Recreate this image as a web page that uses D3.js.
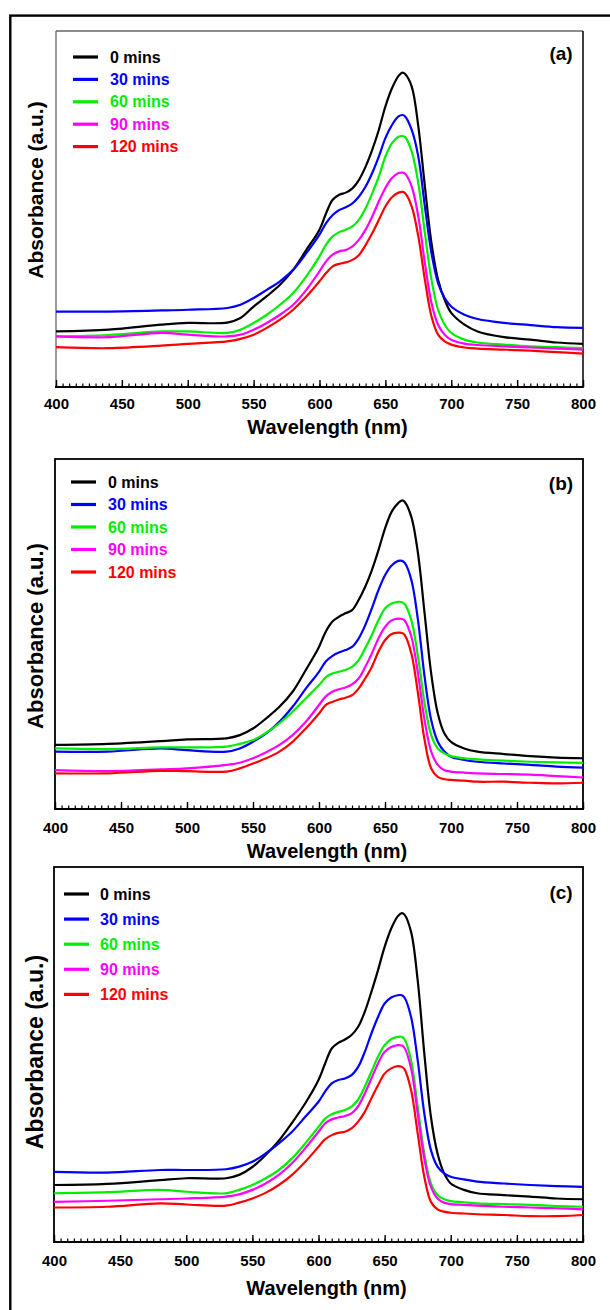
<!DOCTYPE html>
<html>
<head>
<meta charset="utf-8">
<script src="https://cdn.jsdelivr.net/npm/d3@7"></script>
<style>
  html, body { margin: 0; padding: 0; background: #fff; }
  svg { display: block; }
  text { font-family: "Liberation Sans", Arial, sans-serif; font-weight: bold; }
</style>
</head>
<body>
<svg id="chart" width="610" height="1310"></svg>
<script>
// Wavelength grid (nm) shared by every spectrum
const wavelengths = [400,440,480,500,530,540,550,560,570,580,590,600,605,610,615,620,625,630,635,640,645,650,655,660,663,665,670,675,680,685,690,695,700,710,720,740,760,780,800];

// Irradiation times shown in the legends
const seriesNames = ["0 mins", "30 mins", "60 mins", "90 mins", "120 mins"];

// Tick labels on the wavelength axis
const xTickValues = [400, 450, 500, 550, 600, 650, 700, 750, 800];

// Panel tags
const panelTags = ["(a)", "(b)", "(c)"];

// Absorbance (a.u.), panel (a)
const absA0   = [0.156,0.161,0.175,0.180,0.181,0.194,0.226,0.255,0.287,0.329,0.385,0.442,0.488,0.526,0.540,0.546,0.558,0.582,0.619,0.666,0.722,0.788,0.839,0.874,0.883,0.879,0.844,0.732,0.563,0.404,0.301,0.245,0.208,0.175,0.156,0.140,0.133,0.125,0.121];
const absA30  = [0.212,0.212,0.215,0.217,0.222,0.231,0.250,0.273,0.297,0.329,0.376,0.428,0.460,0.483,0.497,0.505,0.516,0.535,0.563,0.601,0.647,0.699,0.736,0.760,0.764,0.760,0.722,0.647,0.507,0.376,0.292,0.250,0.226,0.203,0.191,0.180,0.174,0.168,0.166];
const absA60  = [0.142,0.146,0.156,0.156,0.152,0.161,0.180,0.203,0.231,0.264,0.311,0.367,0.400,0.423,0.435,0.442,0.451,0.470,0.502,0.544,0.591,0.647,0.685,0.703,0.705,0.702,0.661,0.573,0.432,0.301,0.217,0.175,0.152,0.133,0.125,0.119,0.114,0.112,0.109];
const absA90  = [0.142,0.140,0.152,0.147,0.142,0.147,0.161,0.180,0.203,0.231,0.273,0.325,0.353,0.372,0.381,0.385,0.395,0.414,0.442,0.479,0.521,0.559,0.587,0.601,0.602,0.599,0.563,0.479,0.348,0.236,0.175,0.147,0.133,0.122,0.118,0.114,0.111,0.108,0.105];
const absA120 = [0.112,0.109,0.116,0.121,0.128,0.135,0.147,0.166,0.189,0.217,0.254,0.297,0.320,0.339,0.346,0.350,0.357,0.371,0.399,0.432,0.469,0.507,0.533,0.546,0.548,0.544,0.507,0.423,0.301,0.198,0.147,0.128,0.119,0.111,0.108,0.105,0.102,0.098,0.094];

// Absorbance (a.u.), panel (b)
const absB0   = [0.183,0.186,0.194,0.199,0.202,0.211,0.230,0.259,0.292,0.335,0.397,0.463,0.506,0.535,0.549,0.559,0.568,0.597,0.635,0.682,0.739,0.801,0.849,0.874,0.882,0.877,0.834,0.730,0.559,0.387,0.273,0.216,0.192,0.173,0.164,0.157,0.151,0.147,0.145];
const absB30  = [0.164,0.164,0.173,0.168,0.164,0.173,0.192,0.216,0.249,0.292,0.344,0.392,0.421,0.437,0.447,0.454,0.463,0.487,0.525,0.573,0.625,0.668,0.696,0.709,0.709,0.703,0.654,0.539,0.378,0.254,0.192,0.164,0.149,0.140,0.135,0.130,0.126,0.121,0.118];
const absB60  = [0.173,0.171,0.176,0.176,0.178,0.186,0.197,0.218,0.245,0.278,0.316,0.354,0.376,0.387,0.392,0.397,0.406,0.425,0.459,0.497,0.539,0.573,0.587,0.592,0.591,0.585,0.539,0.435,0.302,0.211,0.173,0.159,0.151,0.145,0.142,0.138,0.135,0.133,0.132];
const absB90  = [0.111,0.108,0.113,0.116,0.126,0.132,0.145,0.162,0.183,0.211,0.249,0.297,0.321,0.335,0.342,0.347,0.356,0.373,0.406,0.444,0.487,0.520,0.539,0.544,0.543,0.538,0.492,0.387,0.254,0.164,0.126,0.111,0.107,0.104,0.102,0.100,0.098,0.094,0.090];
const absB120 = [0.102,0.102,0.109,0.108,0.107,0.116,0.130,0.145,0.164,0.192,0.230,0.273,0.297,0.306,0.313,0.318,0.325,0.344,0.373,0.406,0.449,0.482,0.500,0.504,0.503,0.497,0.444,0.330,0.197,0.116,0.092,0.085,0.083,0.081,0.078,0.078,0.075,0.073,0.075];

// Absorbance (a.u.), panel (c)
const absC0   = [0.152,0.155,0.165,0.170,0.170,0.179,0.200,0.232,0.270,0.318,0.370,0.432,0.476,0.516,0.531,0.540,0.552,0.574,0.614,0.667,0.725,0.787,0.836,0.869,0.877,0.873,0.827,0.698,0.503,0.334,0.236,0.183,0.156,0.139,0.130,0.125,0.121,0.116,0.114];
const absC30  = [0.187,0.185,0.192,0.192,0.194,0.201,0.214,0.236,0.263,0.294,0.334,0.374,0.401,0.423,0.432,0.436,0.445,0.467,0.507,0.556,0.600,0.636,0.652,0.658,0.658,0.652,0.600,0.485,0.343,0.245,0.201,0.183,0.174,0.167,0.161,0.156,0.152,0.149,0.147];
const absC60  = [0.130,0.133,0.139,0.134,0.130,0.139,0.152,0.170,0.192,0.223,0.263,0.307,0.329,0.341,0.347,0.352,0.361,0.380,0.414,0.454,0.494,0.525,0.541,0.547,0.547,0.541,0.485,0.361,0.236,0.156,0.125,0.114,0.109,0.106,0.103,0.101,0.099,0.096,0.094];
const absC90  = [0.107,0.110,0.114,0.116,0.121,0.127,0.139,0.156,0.179,0.210,0.250,0.294,0.316,0.327,0.332,0.336,0.343,0.362,0.396,0.436,0.476,0.507,0.520,0.525,0.524,0.518,0.463,0.343,0.223,0.147,0.116,0.105,0.101,0.099,0.097,0.094,0.092,0.090,0.087];
const absC120 = [0.092,0.094,0.103,0.100,0.097,0.105,0.116,0.131,0.152,0.179,0.214,0.254,0.274,0.285,0.291,0.294,0.303,0.321,0.347,0.383,0.418,0.449,0.463,0.469,0.467,0.461,0.405,0.290,0.174,0.107,0.087,0.081,0.078,0.076,0.074,0.072,0.069,0.069,0.072];

const panelSeries = [
  [absA0, absA30, absA60, absA90, absA120],
  [absB0, absB30, absB60, absB90, absB120],
  [absC0, absC30, absC60, absC90, absC120]
];

// Drawing styles
const lineColors = ["#000000", "#0000ff", "#00ee00", "#ff00ff", "#ff0000"];

// Plot frames and text placement for each panel
const layouts = [
  { left: 56, top: 31,  right: 583, bottom: 387,  tickY: 16, titleY: 434,  yTitleY: 190,  yTitleSize: 21, tagY: 60,
    legX: 73, legTextX: 110, legY: 57,  legStep: 22.4, softFrame: true },
  { left: 55, top: 459, right: 583, bottom: 809,  tickY: 18, titleY: 858,  yTitleY: 636,  yTitleSize: 22, tagY: 490,
    legX: 71, legTextX: 108, legY: 482, legStep: 22.5, softFrame: false },
  { left: 54, top: 867, right: 583, bottom: 1242, tickY: 18, titleY: 1295, yTitleY: 1052, yTitleSize: 23, tagY: 899,
    legX: 64, legTextX: 100, legY: 894, legStep: 25.1, softFrame: false }
];

const svg = d3.select("#chart");

// Outer figure border (only top and left edges fall inside the page)
svg.append("rect")
  .attr("x", 10.3).attr("y", 15.6)
  .attr("width", 640).attr("height", 1340)
  .attr("fill", "none").attr("stroke", "#000").attr("stroke-width", 2.4);

layouts.forEach((L, pi) => {
  const g = svg.append("g");
  const x = d3.scaleLinear().domain([400, 800]).range([L.left, L.right]);
  const y = d3.scaleLinear().domain([0, 1]).range([L.bottom, L.top]);

  // Frame
  if (L.softFrame) {
    g.append("line").attr("x1", L.left).attr("x2", L.right).attr("y1", L.top).attr("y2", L.top)
      .attr("stroke", "#666").attr("stroke-width", 1.3);
    g.append("line").attr("x1", L.left).attr("x2", L.left).attr("y1", L.top).attr("y2", L.bottom)
      .attr("stroke", "#666").attr("stroke-width", 1.3);
    g.append("line").attr("x1", L.right).attr("x2", L.right).attr("y1", L.top).attr("y2", L.bottom)
      .attr("stroke", "#000").attr("stroke-width", 1.5);
  } else {
    g.append("rect").attr("x", L.left).attr("y", L.top)
      .attr("width", L.right - L.left).attr("height", L.bottom - L.top)
      .attr("fill", "none").attr("stroke", "#000").attr("stroke-width", 1.8);
  }

  // Spectra
  const line = d3.line()
    .x((d, i) => x(wavelengths[i]))
    .y(d => y(d))
    .curve(d3.curveCatmullRom.alpha(0.5));

  panelSeries[pi].forEach((vals, si) => {
    g.append("path")
      .attr("d", line(vals))
      .attr("fill", "none")
      .attr("stroke", lineColors[si])
      .attr("stroke-width", 2.2)
      .attr("stroke-linejoin", "round");
  });

  // Bottom axis with inward ticks
  const minor = d3.axisBottom(x).tickValues(d3.range(400, 801, 5)).tickSize(-3.5).tickFormat("");
  g.append("g").attr("transform", `translate(0,${L.bottom})`).call(minor)
    .call(a => a.select(".domain").remove())
    .call(a => a.selectAll("line").attr("stroke", "#000").attr("stroke-width", 1.2));

  const major = d3.axisBottom(x).tickValues(xTickValues).tickSize(-7).tickPadding(0);
  const ax = g.append("g").attr("transform", `translate(0,${L.bottom})`).call(major);
  ax.select(".domain").remove();
  ax.selectAll("line").attr("stroke", "#000").attr("stroke-width", 1.4);
  ax.selectAll("text")
    .attr("y", L.tickY + 5.5).attr("dy", null)
    .attr("fill", "#000")
    .style("font-size", "15px")
    .style("font-family", "'Liberation Sans', Arial, sans-serif")
    .style("font-weight", "bold");

  g.append("line").attr("x1", L.left - 1).attr("x2", L.right + 0.8)
    .attr("y1", L.bottom).attr("y2", L.bottom)
    .attr("stroke", "#000").attr("stroke-width", 2);

  // Axis titles
  g.append("text")
    .attr("x", (L.left + L.right) / 2 + 8).attr("y", L.titleY)
    .attr("text-anchor", "middle")
    .style("font-size", "20px")
    .text("Wavelength (nm)");

  g.append("text")
    .attr("transform", `translate(43,${L.yTitleY}) rotate(-90)`)
    .attr("text-anchor", "middle")
    .style("font-size", L.yTitleSize + "px")
    .text("Absorbance (a.u.)");

  // Panel tag
  g.append("text")
    .attr("x", 561).attr("y", L.tagY)
    .attr("text-anchor", "middle")
    .style("font-size", "19px")
    .text(panelTags[pi]);

  // Legend
  seriesNames.forEach((name, si) => {
    const ly = L.legY + si * L.legStep;
    g.append("line")
      .attr("x1", L.legX).attr("x2", L.legX + 25)
      .attr("y1", ly).attr("y2", ly)
      .attr("stroke", lineColors[si]).attr("stroke-width", 3.2);
    g.append("text")
      .attr("x", L.legTextX).attr("y", ly + 5.5)
      .attr("fill", lineColors[si])
      .style("font-size", "16px")
      .text(name);
  });
});
</script>
</body>
</html>
